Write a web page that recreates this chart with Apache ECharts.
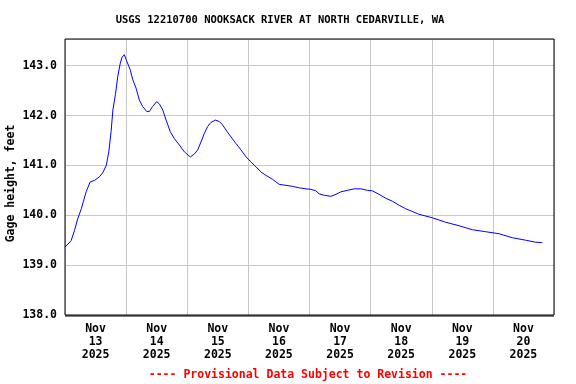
<!DOCTYPE html>
<html>
<head>
<meta charset="utf-8">
<script src="https://cdn.jsdelivr.net/npm/echarts@6/dist/echarts.min.js"></script>
<style>html,body{margin:0;padding:0;background:#fff;}#c{width:576px;height:384px;}</style>
</head>
<body>
<div id="c"></div>
<script>
// Hours since Nov 13 2025 00:00 and gage height (feet)
var hours = [0, 2.4, 3.7, 5.0, 6.4, 8.3, 9.9, 11.6, 13.5, 14.8, 16.2, 17.2, 18.1, 18.8, 19.8, 20.7, 21.7, 22.4, 23.3, 24.0, 24.6, 25.6, 26.6, 27.9, 29.2, 30.5, 32.1, 33.1, 34.4, 36.0, 37.1, 38.4, 39.7, 41.3, 42.9, 44.9, 46.9, 49.2, 50.8, 52.1, 53.4, 54.7, 56.0, 57.3, 59.0, 60.6, 61.9, 63.2, 65.2, 67.1, 69.1, 71.1, 73.0, 75.0, 76.9, 78.9, 81.5, 84.1, 86.8, 89.3, 92.0, 94.6, 96.6, 98.5, 99.8, 101.8, 104.4, 106.4, 108.3, 110.9, 113.5, 116.2, 118.8, 120.7, 123.3, 126.0, 128.6, 131.2, 133.8, 139.0, 144.2, 149.5, 154.7, 159.9, 165.2, 170.4, 175.6, 180.9, 184.8, 187.4];
var gage = [139.36, 139.49, 139.69, 139.93, 140.13, 140.47, 140.67, 140.70, 140.77, 140.85, 141.00, 141.27, 141.68, 142.11, 142.42, 142.78, 143.05, 143.17, 143.22, 143.12, 143.12, 142.92, 142.72, 142.55, 142.31, 142.18, 142.08, 142.08, 142.18, 142.28, 142.23, 142.11, 141.91, 141.68, 141.54, 141.41, 141.27, 141.17, 141.23, 141.31, 141.47, 141.64, 141.78, 141.86, 141.91, 141.88, 141.81, 141.71, 141.57, 141.44, 141.31, 141.17, 141.07, 140.97, 140.87, 140.80, 140.72, 140.62, 140.60, 140.58, 140.55, 140.53, 140.52, 140.49, 140.43, 140.40, 140.38, 140.42, 140.47, 140.50, 140.53, 140.53, 140.50, 140.49, 140.42, 140.34, 140.28, 140.20, 140.13, 140.02, 139.95, 139.86, 139.79, 139.71, 139.67, 139.63, 139.55, 139.50, 139.46, 139.45];
var dayLabels = ['Nov\n13\n2025', 'Nov\n14\n2025', 'Nov\n15\n2025', 'Nov\n16\n2025', 'Nov\n17\n2025', 'Nov\n18\n2025', 'Nov\n19\n2025', 'Nov\n20\n2025'];
var titleText = 'USGS 12210700 NOOKSACK RIVER AT NORTH CEDARVILLE, WA';
var yName = 'Gage height, feet';
var footer = '---- Provisional Data Subject to Revision ----';

var FONT = "'DejaVu Sans Mono', 'Liberation Mono', monospace";
var pts = hours.map(function (h, i) { return [h, gage[i]]; });

var chart = echarts.init(document.getElementById('c'), null, {renderer: 'canvas'});
chart.setOption({
  animation: false,
  backgroundColor: '#fff',
  grid: {left: 65, right: 22, top: 39, bottom: 69, show: true, borderColor: '#000', borderWidth: 1, backgroundColor: 'transparent', z: 10},
  xAxis: [{
    type: 'category', data: dayLabels, boundaryGap: true,
    axisLine: {show: false}, axisTick: {show: false},
    splitLine: {show: true, interval: 0, lineStyle: {color: '#c8c8c8', width: 1}},
    axisLabel: {interval: 0, margin: 8, color: '#000', fontFamily: FONT, fontWeight: 'bold', fontSize: 11.5, lineHeight: 12.8}
  }, {
    type: 'value', min: 0, max: 192, show: false
  }],
  yAxis: {
    type: 'value', min: 138, max: 143.535, interval: 1,
    axisLine: {show: false}, axisTick: {show: false},
    splitLine: {show: true, lineStyle: {color: '#c8c8c8', width: 1}},
    axisLabel: {showMaxLabel: false, margin: 8, color: '#000', fontFamily: FONT, fontWeight: 'bold', fontSize: 11.5,
      formatter: function (v) { return Math.abs(v - Math.round(v)) < 1e-6 ? v.toFixed(1) : ''; }}
  },
  series: [{
    type: 'line', xAxisIndex: 1, data: pts, showSymbol: false, smooth: false,
    lineStyle: {color: '#0000ff', width: 1}
  }],
  graphic: [
    {type: 'line', shape: {x1: 65, y1: 316, x2: 554, y2: 316}, style: {stroke: '#000', lineWidth: 1}, z: 20},
    {type: 'text', x: 280, y: 20, style: {text: titleText, fill: '#000', font: 'bold 10.5px ' + FONT, textAlign: 'center', textVerticalAlign: 'middle'}},
    {type: 'text', x: 11.5, y: 183.5, rotation: Math.PI / 2, style: {text: yName, fill: '#000', font: 'bold 11.5px ' + FONT, textAlign: 'center', textVerticalAlign: 'middle'}},
    {type: 'text', x: 308, y: 375, style: {text: footer, fill: '#ff0000', font: 'bold 11.5px ' + FONT, textAlign: 'center', textVerticalAlign: 'middle'}}
  ]
});
</script>
</body>
</html>
